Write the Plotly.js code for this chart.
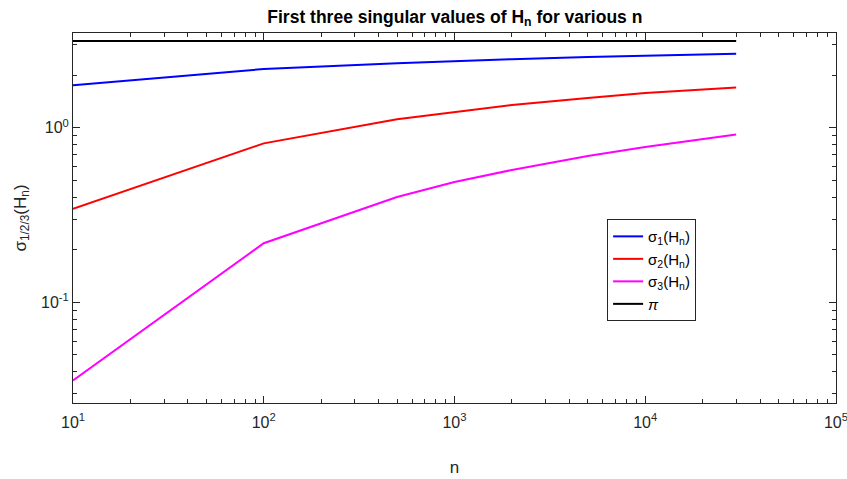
<!DOCTYPE html>
<html>
<head>
<meta charset="utf-8">
<script src="https://cdn.plot.ly/plotly-3.0.1.min.js"></script>
<style>html,body{margin:0;padding:0;background:#fff;}#chart{width:847px;height:479px;}</style>
</head>
<body>
<div id="chart"></div>
<script>
// Data
const nValues = [10, 100, 500, 1000, 2000, 5000, 10000, 30000];
const sigma1 = [1.752, 2.17, 2.34, 2.41, 2.47, 2.54, 2.59, 2.65];
const sigma2 = [0.343, 0.814, 1.12, 1.23, 1.35, 1.48, 1.58, 1.70];
const sigma3 = [0.0357, 0.218, 0.401, 0.489, 0.573, 0.689, 0.776, 0.916];
const piX = [10, 30000];
const piY = [Math.PI, Math.PI];

const xTickVals = [10, 100, 1000, 10000, 100000];
const xTickText = ['10<sup>1</sup>', '10<sup>2</sup>', '10<sup>3</sup>', '10<sup>4</sup>', '10<sup>5</sup>'];
const yTickVals = [0.1, 1];
const yTickText = ['10<sup>-1</sup>', '10<sup>0</sup>'];

const seriesNames = ['σ<sub>1</sub>(H<sub>n</sub>)', 'σ<sub>2</sub>(H<sub>n</sub>)', 'σ<sub>3</sub>(H<sub>n</sub>)', '<i>π</i>'];
const seriesColors = ['#0000ff', '#ff0000', '#ff00ff', '#000000'];

function minorTicks(lo, hi) {
  const out = [];
  for (let e = lo; e < hi; e++) {
    for (let d = 2; d <= 9; d++) out.push(d * Math.pow(10, e));
  }
  return out;
}

const ys = [sigma1, sigma2, sigma3];
const traces = ys.map((y, i) => ({
  x: nValues, y: y, type: 'scatter', mode: 'lines',
  name: seriesNames[i], line: {color: seriesColors[i], width: 2}
}));
traces.push({x: piX, y: piY, type: 'scatter', mode: 'lines', name: seriesNames[3],
  line: {color: seriesColors[3], width: 2}});

const axisCommon = {
  type: 'log', showgrid: false, zeroline: false, automargin: false,
  showline: true, linecolor: '#262626', linewidth: 1, mirror: 'allticks',
  ticks: 'inside', ticklen: 7, tickcolor: '#262626', tickwidth: 1,
  ticklabeloverflow: 'allow',
  tickfont: {family: 'Liberation Sans, Arial, sans-serif', size: 16, color: '#262626'}
};

const layout = {
  width: 847, height: 479,
  paper_bgcolor: '#ffffff', plot_bgcolor: '#ffffff',
  margin: {l: 73, r: 11, t: 33, b: 76},
  font: {family: 'Liberation Sans, Arial, sans-serif', color: '#262626'},
  title: {text: '<b>First three singular values of H<sub>n</sub> for various n</b>',
    font: {size: 17.5, color: '#000000'}, x: 0.537, xanchor: 'center', y: 0.978, yanchor: 'top', yref: 'container'},
  showlegend: true,
  legend: {x: 0.70, y: 0.497, xanchor: 'left', yanchor: 'top', bordercolor: '#262626', borderwidth: 1,
    bgcolor: '#ffffff', font: {size: 15, color: '#000000'}, tracegroupgap: 0, itemwidth: 30},
  xaxis: Object.assign({}, axisCommon, {
    range: [1, 5.0005], tickmode: 'array', tickvals: xTickVals, ticktext: xTickText,
    ticklabelstandoff: 5,
    minor: {tickmode: 'array', tickvals: minorTicks(1, 5), ticks: 'inside', ticklen: 4, tickcolor: '#262626'},
    title: {text: 'n', font: {size: 17, color: '#262626'}, standoff: 30}
  }),
  yaxis: Object.assign({}, axisCommon, {
    range: [Math.log10(0.0265), Math.log10(3.49)], tickmode: 'array', tickvals: yTickVals, ticktext: yTickText,
    minor: {tickmode: 'array', tickvals: minorTicks(-2, 1), ticks: 'inside', ticklen: 4, tickcolor: '#262626'},
    title: {text: 'σ<sub>1/2/3</sub>(H<sub>n</sub>)', font: {size: 17, color: '#262626'}, standoff: 10}
  })
};

Plotly.newPlot('chart', traces, layout, {displayModeBar: false, staticPlot: true});
</script>
</body>
</html>
